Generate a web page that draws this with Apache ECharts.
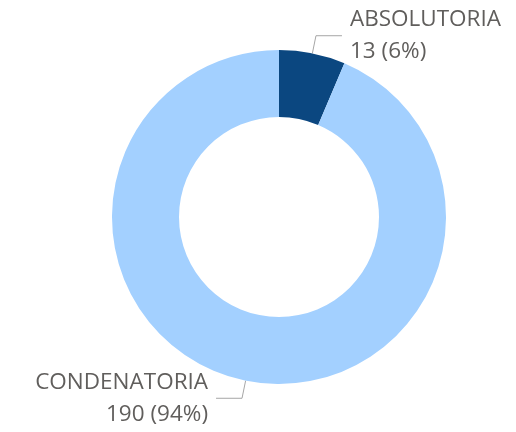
<!DOCTYPE html>
<html>
<head>
<meta charset="utf-8">
<script src="https://cdn.jsdelivr.net/npm/echarts@6/dist/echarts.min.js"></script>
<style>
  html, body { margin: 0; padding: 0; background: #fff; }
  #chart { width: 516px; height: 432px; }
</style>
</head>
<body>
<div id="chart"></div>
<script>
// categorías y valores
const categories = ['ABSOLUTORIA', 'CONDENATORIA'];
const values = [13, 190];
const colors = ['#0b4780', '#a3d0ff'];

const chart = echarts.init(document.getElementById('chart'));

const data = categories.map((name, i) => ({
  name,
  value: values[i],
  itemStyle: { color: colors[i] }
}));

const option = {
  animation: false,
  series: [
    {
      type: 'pie',
      center: [279, 217],
      radius: [100, 167],
      startAngle: 90,
      clockwise: true,
      percentPrecision: 0,
      avoidLabelOverlap: false,
      data,
      label: {
        show: true,
        position: 'outside',
        formatter: '{b}\n{c} ({d}%)',
        color: '#605e5c',
        fontFamily: 'Open Sans',
        fontSize: 22.5,
        lineHeight: 32,
        distanceToLabelLine: 8
      },
      labelLine: {
        show: true,
        length: 18,
        length2: 26,
        lineStyle: { color: '#a6a6a6', width: 1 }
      },
      emphasis: { disabled: true }
    }
  ]
};
chart.setOption(option);
</script>
</body>
</html>
